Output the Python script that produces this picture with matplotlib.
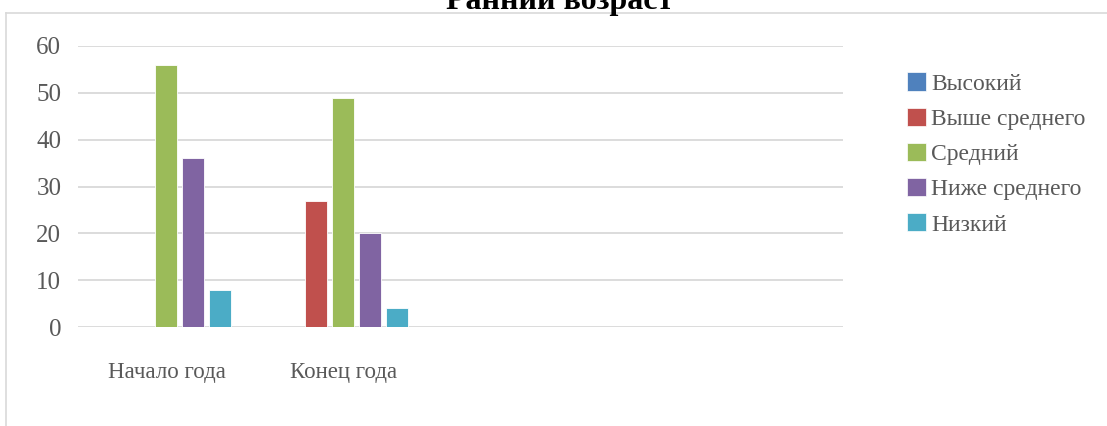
import numpy as np
import matplotlib.pyplot as plt
from matplotlib.lines import Line2D
from matplotlib.patches import Patch

categories = ["Начало года", "Конец года"]
series_names = ["Высокий", "Выше среднего", "Средний", "Ниже среднего", "Низкий"]
vysokiy = [0, 0]
vyshe_srednego = [0, 27]
sredniy = [56, 49]
nizhe_srednego = [36, 20]
nizkiy = [8, 4]
colors = ["#4F81BD", "#C0504D", "#9BBB59", "#8064A2", "#4BACC6"]
yticks = [0, 10, 20, 30, 40, 50, 60]

plt.rcParams['font.family'] = ['Liberation Serif', 'DejaVu Serif']
grey = "#595959"

W, H = 1107, 426
fig = plt.figure(figsize=(W / 100, H / 100), dpi=100)
ax = fig.add_axes([78 / W, 1 - 327 / H, (843 - 78) / W, (327 - 46) / H])

values = [vysokiy, vyshe_srednego, sredniy, nizhe_srednego, nizkiy]
x = np.arange(len(categories))
step = 27 / 177
width = 22 / 177
for k, (name, vals, c) in enumerate(zip(series_names, values, colors)):
    ax.bar(x + (k - 2) * step, vals, width, color=c, label=name,
           edgecolor="white", linewidth=0.6, zorder=3)

ax.set_xlim(-0.5, (843 - 166) / 177)
ax.set_ylim(0, 60)
ax.set_yticks(yticks)
ax.set_xticks(x)
ax.set_xticklabels(categories, fontsize=16.5)
ax.yaxis.grid(True, color="#D9D9D9", linewidth=1.3, zorder=0)
ax.set_axisbelow(True)
for s in ax.spines.values():
    s.set_visible(False)
ax.tick_params(axis="both", length=0, colors=grey)
ax.tick_params(axis="y", pad=12, labelsize=18)
ax.tick_params(axis="x", pad=25)

# legend
handles = [Patch(facecolor=c, edgecolor="white", linewidth=0.5) for c in colors]
fig.legend(handles, series_names, loc="upper left",
           bbox_to_anchor=(898 / W, 1 - 63 / H), frameon=False,
           fontsize=17, labelcolor=grey, handlelength=0.8, handleheight=0.8,
           handletextpad=0.2, labelspacing=0.55, borderaxespad=0)

# title (cut off at top, as in the reference)
fig.text(560 / W, 1 - 9 / H, "Ранний возраст", ha="center", va="baseline",
         fontsize=23, fontweight="bold", color="black")

# chart border
fig.add_artist(Line2D([6 / W, 1], [1 - 12.5 / H, 1 - 12.5 / H], color="#D9D9D9", linewidth=1.2))
fig.add_artist(Line2D([6 / W, 6 / W], [0, 1 - 12.5 / H], color="#D9D9D9", linewidth=1.2))

fig.savefig("out.png", dpi=100)
